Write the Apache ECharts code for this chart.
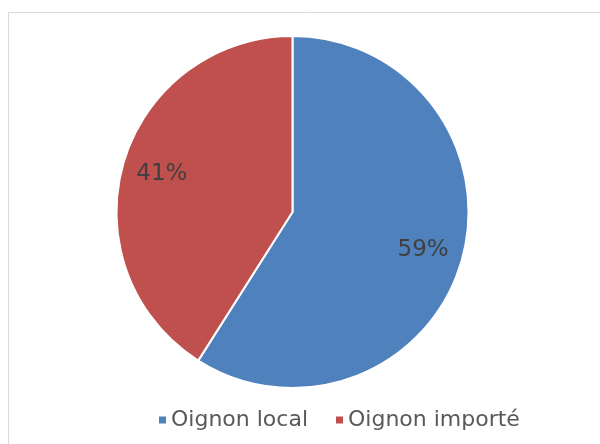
<!DOCTYPE html>
<html><head><meta charset="utf-8">
<script src="https://cdn.jsdelivr.net/npm/echarts@6/dist/echarts.min.js"></script>
<style>html,body{margin:0;padding:0;background:#fff}#c{width:600px;height:444px}</style>
</head><body><div id="c"></div>
<script>
var categories = ['Oignon local', 'Oignon importé'];
var values = [59, 41];
var colors = ['#4F81BD', '#C0504D'];

var data = categories.map(function (n, i) { return { name: n, value: values[i] }; });
var chart = echarts.init(document.getElementById('c'));
chart.setOption({
  animation: false,
  color: colors,
  graphic: [{
    type: 'rect', shape: { x: 8.5, y: 12.5, width: 620, height: 460 },
    style: { fill: null, stroke: '#D9D9D9', lineWidth: 1 }, silent: true
  }],
  legend: {
    left: 152, top: 404,
    itemWidth: 9, itemHeight: 9, itemGap: 26,
    icon: 'rect',
    textStyle: { fontFamily: 'DejaVu Sans', fontSize: 22, color: '#595959', padding: [0, 0, 0, -1] },
    data: categories
  },
  series: [{
    type: 'pie', center: [292.5, 212], radius: 176,
    startAngle: 90, clockwise: true,
    itemStyle: { borderColor: '#fff', borderWidth: 2 },
    label: { show: false }, labelLine: { show: false },
    emphasis: { disabled: true },
    data: data
  }, {
    type: 'pie', center: [292.5, 212], radius: [90, 176],
    startAngle: 90, clockwise: true, silent: true,
    itemStyle: { color: 'transparent', borderWidth: 0 },
    label: { show: true, position: 'inside', formatter: '{c}%',
      fontFamily: 'DejaVu Sans', fontSize: 23, color: '#404040' },
    labelLine: { show: false },
    emphasis: { disabled: true },
    data: data
  }]
});
</script></body></html>
